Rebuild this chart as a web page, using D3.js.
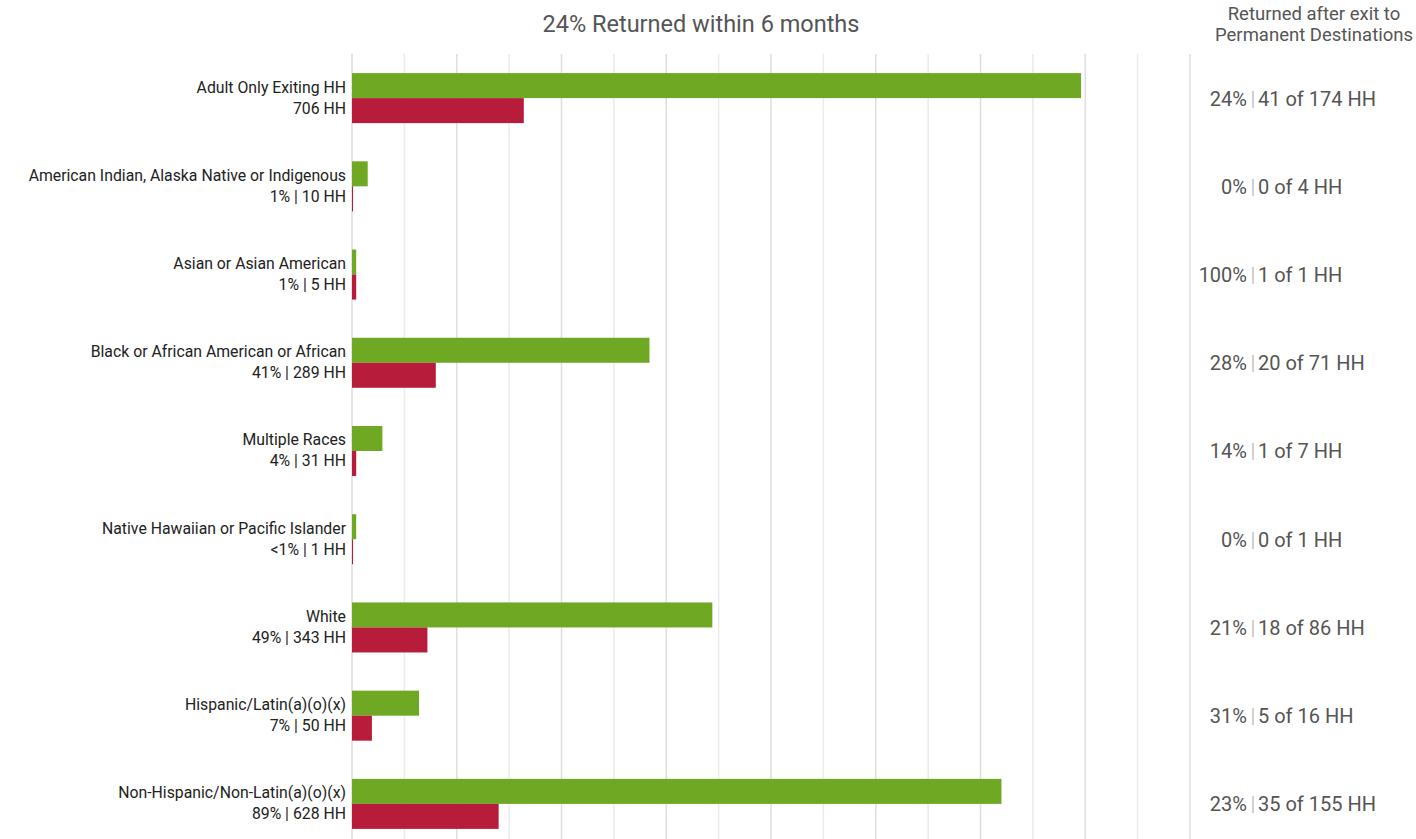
<!DOCTYPE html>
<html>
<head>
<meta charset="utf-8">
<script src="https://cdn.jsdelivr.net/npm/d3@7/dist/d3.min.js"></script>
<style>
  body { margin: 0; background: #fff; }
  svg { font-family: Roboto, "Noto Sans", sans-serif; }
</style>
</head>
<body>
<svg id="viz" width="1416" height="839"></svg>
<script>
// chart values
var categories = [
  "Adult Only Exiting HH",
  "American Indian, Alaska Native or Indigenous",
  "Asian or Asian American",
  "Black or African American or African",
  "Multiple Races",
  "Native Hawaiian or Pacific Islander",
  "White",
  "Hispanic/Latin(a)(o)(x)",
  "Non-Hispanic/Non-Latin(a)(o)(x)"
];
var subLabels = ["706 HH", "1% | 10 HH", "1% | 5 HH", "41% | 289 HH", "4% | 31 HH",
  "<1% | 1 HH", "49% | 343 HH", "7% | 50 HH", "89% | 628 HH"];
var greenValues = [696, 15, 4, 284, 29, 4, 344, 64, 620];
var redValues = [164, 1, 4, 80, 4, 1, 72, 19, 140];
var returnPct = ["24%", "0%", "100%", "28%", "14%", "0%", "21%", "31%", "23%"];
var returnedCounts = [41, 0, 1, 20, 1, 0, 18, 5, 35];
var exitCounts = [174, 4, 1, 71, 7, 1, 86, 16, 155];

var svg = d3.select("#viz");

var x = d3.scaleLinear().domain([0, 800]).range([352, 1190]);
var y = d3.scaleBand().domain(categories).range([54, 848]).paddingInner(0.433).paddingOuter(0.2165);
var sub = d3.scaleBand().domain(["green", "red"]).range([0, y.bandwidth()]);
var color = { green: "#6fa823", red: "#b81c3b" };

// grid
svg.append("g")
  .attr("class", "grid")
  .selectAll("line")
  .data(x.ticks(16))
  .enter()
  .append("line")
  .attr("x1", function(d) { return x(d); })
  .attr("x2", function(d) { return x(d); })
  .attr("y1", 54)
  .attr("y2", 839)
  .attr("stroke", function(d) { return d % 100 === 0 ? "#dedede" : "#ebebeb"; })
  .attr("stroke-width", 1.5);

var rows = categories.map(function(c, i) {
  return {
    cat: c, sub: subLabels[i], green: greenValues[i], red: redValues[i],
    pct: returnPct[i], ret: returnedCounts[i], exits: exitCounts[i]
  };
});

var row = svg.append("g")
  .selectAll("g")
  .data(rows)
  .enter()
  .append("g")
  .attr("transform", function(d) { return "translate(0," + y(d.cat) + ")"; });

row.append("rect")
  .attr("x", x(0))
  .attr("y", sub("green"))
  .attr("width", function(d) { return x(d.green) - x(0); })
  .attr("height", sub.bandwidth())
  .attr("fill", color.green);

row.append("rect")
  .attr("x", x(0))
  .attr("y", sub("red"))
  .attr("width", function(d) { return x(d.red) - x(0); })
  .attr("height", sub.bandwidth())
  .attr("fill", color.red);

var mid = y.bandwidth() / 2;

row.append("text")
  .attr("x", 346)
  .attr("y", mid - 5.5)
  .attr("text-anchor", "end")
  .attr("font-size", 15.8)
  .attr("fill", "#222")
  .text(function(d) { return d.cat; });

row.append("text")
  .attr("x", 346)
  .attr("y", mid + 15.5)
  .attr("text-anchor", "end")
  .attr("font-size", 15.8)
  .attr("fill", "#222")
  .text(function(d) { return d.sub; });

// right hand column, lined up on the pipe
row.append("text")
  .attr("x", 1247)
  .attr("y", mid + 7.5)
  .attr("text-anchor", "end")
  .attr("font-size", 20)
  .attr("fill", "#555")
  .text(function(d) { return d.pct; });

row.append("text")
  .attr("x", 1253)
  .attr("y", mid + 7.5)
  .attr("text-anchor", "middle")
  .attr("font-size", 20)
  .attr("fill", "#c4c4c4")
  .text("|");

row.append("text")
  .attr("x", 1258)
  .attr("y", mid + 7.5)
  .attr("font-size", 20)
  .attr("fill", "#555")
  .text(function(d) { return d.ret + " of " + d.exits + " HH"; });

svg.append("text")
  .attr("x", 701)
  .attr("y", 31.5)
  .attr("text-anchor", "middle")
  .attr("font-size", 23.5)
  .attr("fill", "#555")
  .text("24% Returned within 6 months");

var head = svg.append("text")
  .attr("text-anchor", "middle")
  .attr("font-size", 18.5)
  .attr("fill", "#555");
head.append("tspan").attr("x", 1314).attr("y", 19.5).text("Returned after exit to");
head.append("tspan").attr("x", 1314).attr("y", 41).text("Permanent Destinations");
</script>
</body>
</html>
